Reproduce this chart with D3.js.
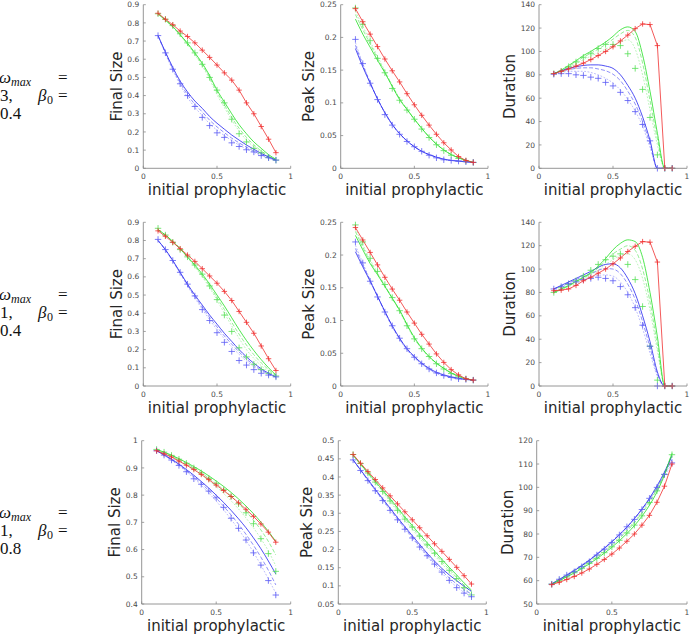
<!DOCTYPE html>
<html><head><meta charset="utf-8">
<script src="https://cdn.jsdelivr.net/npm/d3@7"></script>
<style>body{margin:0;background:#fff}</style>
</head><body>
<svg id="c" width="690" height="637"></svg>
<script>
// ---------- data ----------
const xs = [0.1,0.15,0.2,0.25,0.3,0.35,0.4,0.45,0.5,0.55,0.6,0.65,0.7,0.75,0.8,0.85,0.9];
const xTicks = [0, 0.5, 1];
const rowOmega = ["3", "1", "1"];
const rowBeta = ["0.4", "0.4", "0.8"];
const metricNames = ["Final Size", "Peak Size", "Duration"];
const xLabel = "initial prophylactic";

const yTicksFinalA = [0,0.1,0.2,0.3,0.4,0.5,0.6,0.7,0.8,0.9];
const yTicksPeakA = [0,0.05,0.1,0.15,0.2,0.25];
const yTicksDurA = [0,20,40,60,80,100,120,140];
const yTicksFinalB = [0.4,0.5,0.6,0.7,0.8,0.9,1];
const yTicksPeakB = [0.05,0.1,0.15,0.2,0.25,0.3,0.35,0.4,0.45,0.5];
const yTicksDurB = [50,60,70,80,90,100,110,120];

// Row 1 (omega_max = 3, beta0 = 0.4)
const r1FinalRed = [0.853,0.82,0.79,0.755,0.725,0.69,0.65,0.61,0.568,0.525,0.485,0.43,0.36,0.30,0.23,0.16,0.086];
const r1FinalGreen = [0.85,0.815,0.78,0.735,0.688,0.635,0.578,0.51,0.43,0.365,0.30,0.24,0.19,0.145,0.11,0.075,0.05];
const r1FinalGreenDash = [0.85,0.815,0.778,0.733,0.685,0.63,0.57,0.5,0.42,0.35,0.28,0.22,0.17,0.13,0.095,0.068,0.048];
const r1FinalGreenDot = [0.85,0.814,0.776,0.73,0.68,0.625,0.562,0.49,0.405,0.335,0.265,0.205,0.155,0.118,0.088,0.064,0.046];
const r1FinalGreenPts = [0.85,0.82,0.785,0.74,0.69,0.635,0.572,0.5,0.43,0.36,0.27,0.19,0.145,0.11,0.085,0.06,0.045];
const r1FinalBlue = [0.73,0.64,0.555,0.48,0.42,0.37,0.33,0.285,0.248,0.215,0.183,0.155,0.128,0.105,0.082,0.062,0.045];
const r1FinalBlueDash = [0.73,0.635,0.548,0.47,0.405,0.352,0.31,0.265,0.228,0.196,0.166,0.14,0.116,0.095,0.075,0.058,0.043];
const r1FinalBlueDot = [0.73,0.63,0.54,0.46,0.39,0.335,0.29,0.245,0.21,0.18,0.152,0.128,0.106,0.088,0.07,0.055,0.042];
const r1FinalBluePts = [0.73,0.635,0.545,0.465,0.40,0.34,0.28,0.235,0.195,0.17,0.14,0.12,0.102,0.09,0.07,0.058,0.045];

const r1PeakRed = [0.244,0.224,0.205,0.186,0.167,0.149,0.132,0.114,0.097,0.081,0.066,0.052,0.039,0.028,0.018,0.012,0.009];
const r1PeakGreen = [0.228,0.205,0.185,0.165,0.146,0.125,0.105,0.09,0.075,0.061,0.048,0.037,0.028,0.021,0.016,0.012,0.009];
const r1PeakGreenDash = [0.235,0.212,0.19,0.168,0.147,0.126,0.106,0.09,0.075,0.061,0.048,0.037,0.028,0.021,0.016,0.012,0.009];
const r1PeakGreenDot = [0.24,0.217,0.194,0.171,0.149,0.127,0.107,0.091,0.075,0.061,0.048,0.037,0.028,0.021,0.016,0.012,0.009];
const r1PeakGreenPts = [0.245,0.22,0.195,0.168,0.146,0.122,0.104,0.089,0.075,0.06,0.047,0.036,0.027,0.02,0.015,0.011,0.009];
const r1PeakBlue = [0.183,0.155,0.13,0.106,0.085,0.067,0.053,0.042,0.033,0.026,0.021,0.017,0.014,0.012,0.011,0.01,0.009];
const r1PeakBlueDash = [0.188,0.158,0.131,0.106,0.085,0.067,0.053,0.042,0.033,0.026,0.021,0.017,0.014,0.012,0.011,0.01,0.009];
const r1PeakBlueDot = [0.192,0.16,0.132,0.106,0.084,0.066,0.052,0.041,0.033,0.026,0.02,0.016,0.013,0.012,0.011,0.01,0.009];
const r1PeakBluePts = [0.197,0.16,0.13,0.105,0.082,0.066,0.052,0.041,0.033,0.026,0.02,0.016,0.013,0.012,0.011,0.01,0.009];

const r1DurRed = [81,83,85,87.5,90,93,96.5,100,104,109,114,119.5,123.5,123,105,0,0];
const r1DurGreen = [81,84,88,92,96.5,100,104,108,113,118.5,121,117,97,66,30,0,0];
const r1DurGreenDash = [81,83.5,87,91,95,98.5,102,106,110.5,115,118,112,90,58,25,0,0];
const r1DurGreenDot = [81,83,86,89.5,93,96,99,102,105,108,110,102,80,50,20,0,0];
const r1DurGreenPts = [81,83,87,91,95,98,102.5,106,106,105,98,85.5,67.5,43.5,11.5,0,0];
const r1DurBlue = [81,83.5,85.5,87,88,88.5,88.5,87.5,85.5,80,71,60,44,24,0,0,0];
const r1DurBlueDash = [81,83,84.5,85.5,86,86,85,83.5,80.5,75,66,55,40,21,0,0,0];
const r1DurBlueDot = [81,82,83,83,83,82,80,77,73,67,59,49,36,18,0,0,0];
const r1DurBluePts = [80.5,81,81,80,79.5,78,77,73.5,70.5,65,58,48.5,37.5,23.5,0,0,0];

// Row 2 (omega_max = 1, beta0 = 0.4)
const r2FinalRed = [0.853,0.823,0.79,0.755,0.72,0.685,0.645,0.605,0.565,0.52,0.47,0.41,0.35,0.29,0.22,0.15,0.085];
const r2FinalGreen = [0.86,0.83,0.795,0.755,0.71,0.665,0.615,0.56,0.5,0.44,0.375,0.31,0.25,0.195,0.145,0.1,0.06];
const r2FinalGreenDash = [0.86,0.83,0.795,0.754,0.708,0.66,0.607,0.55,0.485,0.42,0.35,0.285,0.225,0.172,0.127,0.09,0.058];
const r2FinalGreenDot = [0.86,0.83,0.794,0.752,0.705,0.655,0.6,0.54,0.472,0.4,0.33,0.262,0.2,0.152,0.112,0.08,0.056];
const r2FinalGreenPts = [0.867,0.83,0.79,0.75,0.71,0.665,0.615,0.55,0.475,0.39,0.3,0.21,0.16,0.12,0.09,0.07,0.055];
const r2FinalBlue = [0.8,0.75,0.69,0.625,0.56,0.5,0.445,0.39,0.34,0.29,0.245,0.2,0.16,0.125,0.095,0.07,0.05];
const r2FinalBlueDash = [0.8,0.748,0.688,0.622,0.555,0.492,0.434,0.377,0.325,0.275,0.23,0.187,0.148,0.115,0.088,0.066,0.05];
const r2FinalBlueDot = [0.8,0.746,0.685,0.618,0.55,0.484,0.422,0.364,0.31,0.26,0.215,0.174,0.137,0.106,0.082,0.063,0.05];
const r2FinalBluePts = [0.806,0.75,0.69,0.625,0.56,0.495,0.42,0.36,0.293,0.24,0.19,0.14,0.115,0.09,0.07,0.06,0.05];

const r2PeakRed = [0.242,0.223,0.204,0.185,0.166,0.148,0.131,0.113,0.096,0.079,0.064,0.049,0.036,0.025,0.017,0.011,0.009];
const r2PeakGreen = [0.23,0.208,0.187,0.17,0.152,0.134,0.116,0.094,0.074,0.058,0.045,0.035,0.027,0.02,0.015,0.011,0.009];
const r2PeakGreenDash = [0.236,0.212,0.19,0.171,0.153,0.134,0.115,0.093,0.073,0.057,0.045,0.035,0.027,0.02,0.015,0.011,0.009];
const r2PeakGreenDot = [0.241,0.216,0.193,0.173,0.154,0.134,0.114,0.092,0.072,0.057,0.044,0.034,0.026,0.019,0.014,0.011,0.009];
const r2PeakGreenPts = [0.246,0.22,0.195,0.175,0.155,0.135,0.115,0.092,0.072,0.057,0.045,0.034,0.026,0.019,0.014,0.011,0.009];
const r2PeakBlue = [0.205,0.182,0.16,0.137,0.114,0.092,0.073,0.057,0.045,0.035,0.027,0.021,0.017,0.014,0.012,0.01,0.009];
const r2PeakBlueDash = [0.21,0.185,0.161,0.137,0.113,0.091,0.072,0.056,0.044,0.034,0.026,0.02,0.016,0.013,0.011,0.01,0.009];
const r2PeakBlueDot = [0.215,0.188,0.162,0.137,0.112,0.09,0.071,0.055,0.043,0.033,0.025,0.019,0.015,0.013,0.011,0.01,0.009];
const r2PeakBluePts = [0.22,0.188,0.16,0.136,0.113,0.092,0.073,0.057,0.044,0.034,0.026,0.02,0.016,0.013,0.011,0.01,0.009];

const r2DurRed = [81.5,82,83,86,90,93,96.5,100,104.5,109.5,115,119.5,123.5,123,106,0,0];
const r2DurGreen = [80,83,86,89.5,93,97,102.5,109,116.5,122,125,123.5,110,80,42,0,0];
const r2DurGreenDash = [80,82.5,85.5,89,92.5,96,101,107,113,117,120,116,100,72,35,0,0];
const r2DurGreenDot = [80,82,85,88,91.5,95,99,104,108,112,113,108,92,65,30,0,0];
const r2DurGreenPts = [80,84,87,90,94,99,104,108,111,113,104,91,68,34,5,0,0];
const r2DurBlue = [83,86,89,92,95,98,101.5,104,104.5,101,92,79,60,38,12,0,0];
const r2DurBlueDash = [83,85.5,88,91,93.5,96,99,100.5,100,96,87,74,55,33,10,0,0];
const r2DurBlueDot = [83,85,87,89.5,91.5,93,94.5,95,94,89,80,67,49,28,8,0,0];
const r2DurBluePts = [83,85,87.5,89,91,92,93,92,90,85,78,67,52,34,0,0,0];

// Row 3 (omega_max = 1, beta0 = 0.8)
const r3FinalRed = [0.963,0.952,0.94,0.925,0.91,0.894,0.876,0.857,0.837,0.817,0.795,0.772,0.748,0.722,0.694,0.664,0.627];
const r3FinalGreen = [0.968,0.958,0.947,0.934,0.92,0.905,0.889,0.871,0.852,0.832,0.81,0.786,0.76,0.732,0.701,0.667,0.63];
const r3FinalGreenDash = [0.968,0.957,0.945,0.931,0.916,0.9,0.882,0.863,0.842,0.82,0.796,0.769,0.74,0.708,0.672,0.63,0.58];
const r3FinalGreenDot = [0.968,0.956,0.943,0.928,0.912,0.894,0.875,0.854,0.831,0.806,0.779,0.749,0.716,0.68,0.64,0.595,0.54];
const r3FinalGreenPts = [0.968,0.958,0.946,0.932,0.917,0.9,0.882,0.862,0.842,0.82,0.795,0.768,0.735,0.695,0.64,0.585,0.52];
const r3FinalBlue = [0.963,0.948,0.932,0.914,0.894,0.873,0.85,0.826,0.8,0.773,0.744,0.713,0.68,0.643,0.603,0.558,0.51];
const r3FinalBlueDash = [0.963,0.947,0.93,0.911,0.89,0.867,0.843,0.817,0.789,0.759,0.727,0.693,0.656,0.616,0.572,0.524,0.47];
const r3FinalBlueDot = [0.963,0.946,0.928,0.908,0.886,0.862,0.836,0.808,0.778,0.746,0.711,0.674,0.634,0.59,0.543,0.492,0.44];
const r3FinalBluePts = [0.963,0.947,0.929,0.909,0.886,0.86,0.84,0.815,0.79,0.755,0.715,0.678,0.635,0.588,0.543,0.486,0.433];

const r3PeakRed = [0.462,0.438,0.415,0.393,0.37,0.348,0.326,0.304,0.282,0.26,0.238,0.216,0.195,0.173,0.151,0.128,0.105];
const r3PeakGreen = [0.46,0.436,0.412,0.388,0.364,0.34,0.315,0.29,0.266,0.242,0.219,0.196,0.173,0.151,0.13,0.108,0.088];
const r3PeakGreenDash = [0.46,0.435,0.41,0.386,0.361,0.336,0.311,0.286,0.261,0.237,0.213,0.19,0.167,0.145,0.123,0.102,0.082];
const r3PeakGreenDot = [0.46,0.434,0.408,0.383,0.358,0.332,0.306,0.281,0.256,0.231,0.207,0.184,0.161,0.139,0.117,0.096,0.076];
const r3PeakGreenPts = [0.462,0.437,0.411,0.386,0.36,0.334,0.308,0.284,0.262,0.237,0.213,0.19,0.167,0.143,0.12,0.095,0.075];
const r3PeakBlue = [0.447,0.42,0.393,0.366,0.34,0.314,0.288,0.263,0.238,0.214,0.19,0.168,0.148,0.13,0.114,0.099,0.085];
const r3PeakBlueDash = [0.447,0.419,0.391,0.364,0.337,0.311,0.285,0.259,0.234,0.209,0.185,0.162,0.141,0.122,0.105,0.09,0.077];
const r3PeakBlueDot = [0.447,0.418,0.39,0.362,0.335,0.308,0.282,0.256,0.231,0.206,0.181,0.157,0.135,0.115,0.097,0.082,0.07];
const r3PeakBluePts = [0.447,0.418,0.39,0.362,0.335,0.308,0.282,0.256,0.232,0.207,0.183,0.16,0.138,0.115,0.095,0.08,0.07];

const r3DurRed = [58.3,59.3,60.5,61.8,63.3,65,67,69.1,71.4,74,76.9,80,83.8,88,93.6,100.5,110];
const r3DurGreen = [58.5,60,61.6,63.3,65.2,67.2,69.4,71.8,74.3,77.1,80.2,83.6,87.6,92.3,98,105.3,114.5];
const r3DurGreenDash = [58.5,60.2,61.9,63.7,65.6,67.7,70,72.5,75.1,78,81.2,84.8,88.9,93.6,99.2,106,114.5];
const r3DurGreenDot = [58.5,60.4,62.2,64.1,66.1,68.3,70.6,73.1,75.8,78.7,81.9,85.5,89.6,94.3,99.8,106.5,114.5];
const r3DurGreenPts = [58.5,60,61.6,63.4,65.3,67.4,69.6,72,74.5,77.3,80.4,83.8,87.8,93.5,98.5,105.5,114];
const r3DurBlue = [58.6,60.5,62.3,64.3,66.4,68.7,71.2,73.8,76.6,79.6,82.9,86.6,90.7,95.3,100.6,106.5,113.5];
const r3DurBlueDash = [58.6,60.6,62.5,64.5,66.6,68.9,71.4,74,76.8,79.8,83,86.6,90.6,95,100,105.5,112];
const r3DurBlueDot = [58.6,60.7,62.6,64.7,66.8,69.1,71.6,74.2,77,79.9,83.1,86.6,90.4,94.6,99.4,104.6,110.5];
const r3DurBluePts = [58.5,60.6,62.4,63.8,66,68.1,71,73.5,76.3,79.6,83.1,86.3,90.5,95.3,100,105.6,110.5];

// ---------- tables built from the arrays ----------
const yDomains = [
  [[0,0.9],[0,0.25],[0,140]],
  [[0,0.9],[0,0.25],[0,140]],
  [[0.4,1],[0.05,0.5],[50,120]]
];
const yTickSets = [
  [yTicksFinalA, yTicksPeakA, yTicksDurA],
  [yTicksFinalA, yTicksPeakA, yTicksDurA],
  [yTicksFinalB, yTicksPeakB, yTicksDurB]
];
function S(red, g, gd, gt, gp, b, bd, bt, bp){ return {red, g, gd, gt, gp, b, bd, bt, bp}; }
const panels = [
  [S(r1FinalRed,r1FinalGreen,r1FinalGreenDash,r1FinalGreenDot,r1FinalGreenPts,r1FinalBlue,r1FinalBlueDash,r1FinalBlueDot,r1FinalBluePts),
   S(r1PeakRed,r1PeakGreen,r1PeakGreenDash,r1PeakGreenDot,r1PeakGreenPts,r1PeakBlue,r1PeakBlueDash,r1PeakBlueDot,r1PeakBluePts),
   S(r1DurRed,r1DurGreen,r1DurGreenDash,r1DurGreenDot,r1DurGreenPts,r1DurBlue,r1DurBlueDash,r1DurBlueDot,r1DurBluePts)],
  [S(r2FinalRed,r2FinalGreen,r2FinalGreenDash,r2FinalGreenDot,r2FinalGreenPts,r2FinalBlue,r2FinalBlueDash,r2FinalBlueDot,r2FinalBluePts),
   S(r2PeakRed,r2PeakGreen,r2PeakGreenDash,r2PeakGreenDot,r2PeakGreenPts,r2PeakBlue,r2PeakBlueDash,r2PeakBlueDot,r2PeakBluePts),
   S(r2DurRed,r2DurGreen,r2DurGreenDash,r2DurGreenDot,r2DurGreenPts,r2DurBlue,r2DurBlueDash,r2DurBlueDot,r2DurBluePts)],
  [S(r3FinalRed,r3FinalGreen,r3FinalGreenDash,r3FinalGreenDot,r3FinalGreenPts,r3FinalBlue,r3FinalBlueDash,r3FinalBlueDot,r3FinalBluePts),
   S(r3PeakRed,r3PeakGreen,r3PeakGreenDash,r3PeakGreenDot,r3PeakGreenPts,r3PeakBlue,r3PeakBlueDash,r3PeakBlueDot,r3PeakBluePts),
   S(r3DurRed,r3DurGreen,r3DurGreenDash,r3DurGreenDot,r3DurGreenPts,r3DurBlue,r3DurBlueDash,r3DurBlueDot,r3DurBluePts)]
];

// ---------- layout ----------
const colLeft = [[143.3,340.7,539],[143.3,340.7,539],[141.7,338.3,536.7]];
const colRight = [[290.7,488,687],[290.7,488,687],[290.7,486.3,687]];
const rowTop = [4.7, 222.3, 440.7];
const rowBottom = [168.3, 386, 604];

const svg = d3.select("#c");
const FONT = "DejaVu Sans, sans-serif";
const C = {
  red: "#f03030",
  g: "#22e022", gd: "#66e866", gt: "#9cef9c", gp: "#55e055",
  b: "#2222f0", bd: "#6060f5", bt: "#a0a0fa", bp: "#5a5af5"
};

function plus(sel, x, y, color, s) {
  sel.append("path")
    .attr("d", `M${x-s},${y}H${x+s}M${x},${y-s}V${y+s}`)
    .attr("stroke", color).attr("stroke-width", 0.8).attr("fill", "none");
}

for (let r = 0; r < 3; r++) {
  for (let c = 0; c < 3; c++) {
    const L = colLeft[r][c], R = colRight[r][c], T = rowTop[r], B = rowBottom[r];
    const x = d3.scaleLinear().domain([0,1]).range([L,R]);
    const y = d3.scaleLinear().domain(yDomains[r][c]).range([B,T]);
    const g = svg.append("g");
    const P = panels[r][c];

    const smooth = d3.line().x((d,i)=>x(xs[i])).y(d=>y(d)).curve(d3.curveMonotoneX);
    const straight = d3.line().x((d,i)=>x(xs[i])).y(d=>y(d));

    const lines = [
      ["bt","1.8 1.6",0.7], ["gt","1.8 1.6",0.7],
      ["bd","4 2",0.7], ["gd","4 2",0.7],
      ["b",null,0.8], ["g",null,0.8]
    ];
    lines.forEach(([k,dash,w]) => {
      const p = g.append("path").attr("d", smooth(P[k]))
        .attr("fill","none").attr("stroke", C[k]).attr("stroke-width", w);
      if (dash) p.attr("stroke-dasharray", dash);
    });
    // markers for simulations
    ["gp","bp"].forEach(k => {
      P[k].forEach((v,i) => plus(g, x(xs[i]), y(v), C[k], 3.2));
    });
    // red series: line with markers
    g.append("path").attr("d", straight(P.red))
      .attr("fill","none").attr("stroke", C.red).attr("stroke-width", 0.8);
    P.red.forEach((v,i) => plus(g, x(xs[i]), y(v), C.red, 2.7));

    // axes (MATLAB style, box off, inward ticks)
    const ax = g.append("g").attr("font-family", FONT).attr("font-size", 7.5).attr("fill", "#4a4a4a");
    ax.append("line").attr("x1",L).attr("x2",R).attr("y1",B).attr("y2",B).attr("stroke","#8a8a8a").attr("stroke-width",0.9);
    ax.append("line").attr("x1",L).attr("x2",L).attr("y1",B).attr("y2",T).attr("stroke","#8a8a8a").attr("stroke-width",0.9);
    xTicks.forEach(t => {
      ax.append("line").attr("x1",x(t)).attr("x2",x(t)).attr("y1",B).attr("y2",B-2.5).attr("stroke","#8a8a8a").attr("stroke-width",0.8);
      ax.append("text").attr("x",x(t)).attr("y",B+8.5).attr("dy","0.35em").attr("text-anchor","middle").text(String(t));
    });
    let maxW = 0;
    yTickSets[r][c].forEach(t => {
      ax.append("line").attr("x1",L).attr("x2",L+2.5).attr("y1",y(t)).attr("y2",y(t)).attr("stroke","#8a8a8a").attr("stroke-width",0.8);
      const tx = ax.append("text").attr("x",L-4).attr("y",y(t)).attr("dy","0.35em").attr("text-anchor","end").text(String(t));
      maxW = Math.max(maxW, tx.node().getComputedTextLength());
    });
    // axis labels
    const cx = L - 4 - maxW - 11;
    g.append("text").attr("transform",`translate(${cx},${(T+B)/2}) rotate(-90)`)
      .attr("text-anchor","middle").attr("dy","0.35em")
      .attr("font-family",FONT).attr("font-size",15).attr("fill","#262626")
      .text(metricNames[c]);
    g.append("text").attr("x",(L+R)/2).attr("y",B+27)
      .attr("text-anchor","middle")
      .attr("font-family",FONT).attr("font-size",15).attr("fill","#262626")
      .text(xLabel);
  }
  // row label (LaTeX-like)
  const base = (rowTop[r] + rowBottom[r]) / 2 - 4;
  const t = svg.append("g").attr("font-family","Liberation Serif, DejaVu Serif, serif").attr("fill","#111");
  const l1 = t.append("text").attr("y", base).attr("font-size",17);
  l1.append("tspan").attr("x",-1).attr("font-style","italic").text("ω");
  l1.append("tspan").attr("x",11).attr("dy",3).attr("font-size",12).attr("font-style","italic").text("max");
  t.append("text").attr("x",58).attr("y",base).attr("font-size",17).text("=");
  const l2 = t.append("text").attr("y", base+18).attr("font-size",17);
  l2.append("tspan").attr("x",0).text(rowOmega[r] + ",");
  l2.append("tspan").attr("x",38).attr("font-style","italic").text("β");
  l2.append("tspan").attr("x",47).attr("dy",3).attr("font-size",12).text("0");
  t.append("text").attr("x",58).attr("y",base+18).attr("font-size",17).text("=");
  t.append("text").attr("x",0).attr("y",base+36).attr("font-size",17).text(rowBeta[r]);
}
</script>
</body></html>
